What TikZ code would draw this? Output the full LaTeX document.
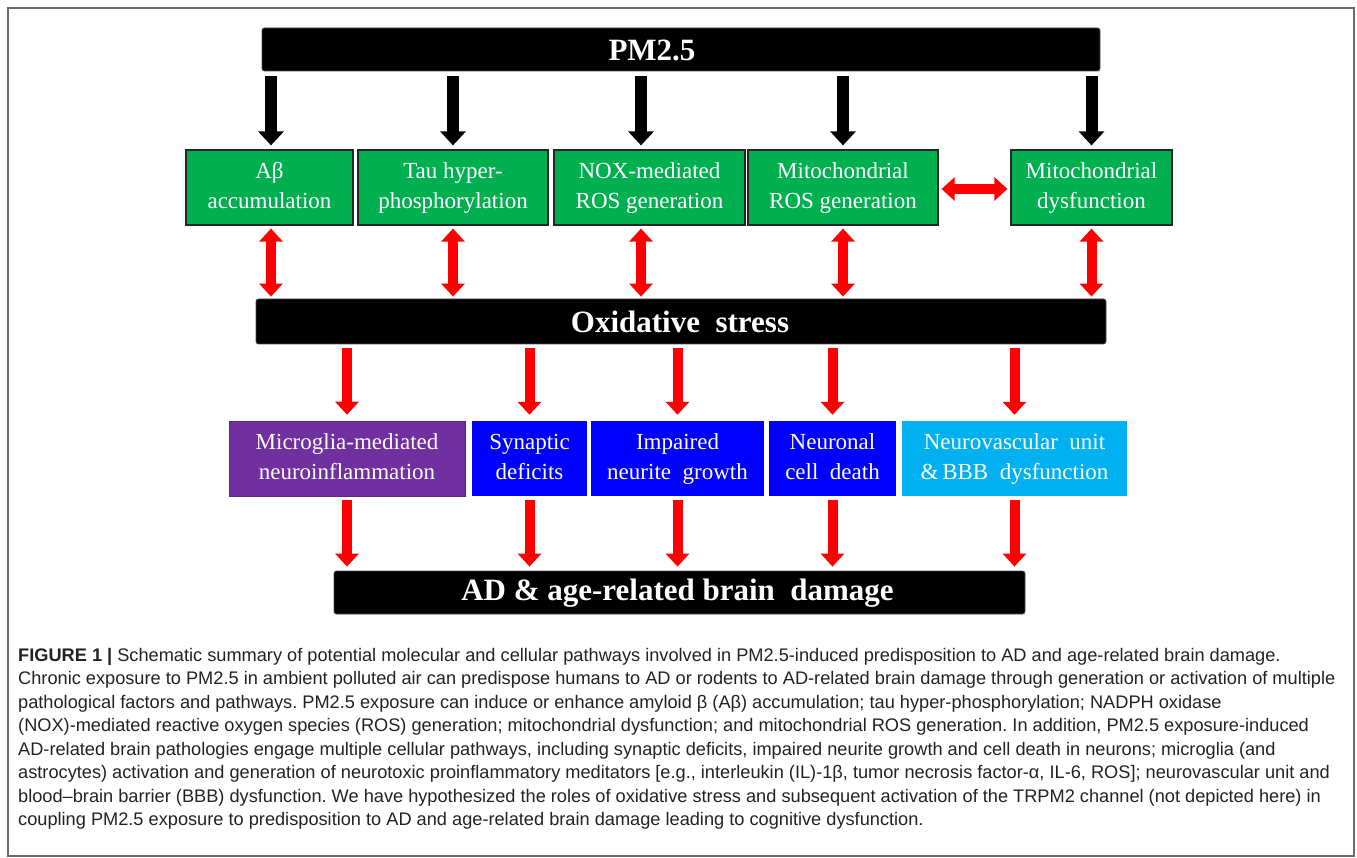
\documentclass[tikz,border=0pt]{standalone}
\usepackage{fontspec}
\setmainfont{Liberation Serif}
\newfontfamily\capfont{Liberation Sans}
\usetikzlibrary{arrows.meta}
\frenchspacing
\definecolor{boxgreen}{HTML}{00B050}
\definecolor{boxpurple}{HTML}{7030A0}
\definecolor{boxblue}{HTML}{0000FF}
\definecolor{boxcyan}{HTML}{00B0F0}
\definecolor{arrred}{HTML}{FF0000}
\definecolor{framegray}{HTML}{6A6A6A}
\definecolor{captext}{HTML}{222222}
\tikzset{
  box/.style={minimum height=75pt, inner sep=0pt, align=center, text=white,
    font=\fontsize{23}{30}\selectfont},
  gbox/.style={box, fill=boxgreen, draw=black!85, line width=1.2pt},
  pbox/.style={box, fill=boxpurple, draw=boxpurple!80!black, line width=0.6pt},
  bbox/.style={box, fill=boxblue},
  cbox/.style={box, fill=boxcyan},
  bar/.style={fill=black, draw=black!70, line width=0.8pt, rounded corners=2.5pt, inner sep=0pt},
  bartext/.style={text=white, inner sep=0pt, font=\bfseries\fontsize{31}{31}\selectfont},
  blkarrow/.style={draw=black, line width=12pt, -{Triangle[width=25pt,length=14pt]}},
  redtwo/.style={draw=arrred, line width=10pt, {Triangle[width=23pt,length=13pt]}-{Triangle[width=23pt,length=13pt]}},
  redarrow/.style={draw=arrred, line width=10pt, -{Triangle[width=23pt,length=13pt]}},
  capline/.style={anchor=base west, inner sep=0pt, text=captext, font=\capfont\fontsize{18.2}{20}\selectfont}
}
\begin{document}
\begin{tikzpicture}[x=1pt,y=-1pt]
\useasboundingbox (0,0) rectangle (1357,858);
\draw[framegray, line width=1.3pt] (8,8) rectangle (1354,856);

% top bar
\node[bar, minimum width=838pt, minimum height=43pt] (pm) at (681,49.5) {};
\node[bartext] (pmt) at (652,50) {PM2.5};

% green boxes
\node[gbox, minimum width=167pt] (ab) at (269.5,187.5) {\strut Aβ\\\strut accumulation};
\node[gbox, minimum width=190pt] (tau) at (453,187.5) {\strut Tau hyper-\\\strut phosphorylation};
\node[gbox, minimum width=191pt] (nox) at (649.5,187.5) {\strut NOX-mediated\\\strut ROS generation};
\node[gbox, minimum width=190pt] (mros) at (843,187.5) {\strut Mitochondrial\\\strut ROS generation};
\node[gbox, minimum width=161pt] (mdys) at (1091.5,187.5) {\strut Mitochondrial\\\strut dysfunction};

% oxidative stress bar
\node[bar, minimum width=850pt, minimum height=45pt] (ox) at (681,321.5) {};
\node[bartext] (oxt) at (680,322) {Oxidative\ \ stress};

% bottom boxes
\node[pbox, minimum width=236pt] (mic) at (347,458.5) {\strut Microglia-mediated\\\strut neuroinflammation};
\node[bbox, minimum width=115pt] (syn) at (529.5,458.5) {\strut Synaptic\\\strut deficits};
\node[bbox, minimum width=173pt] (imp) at (677.5,458.5) {\strut Impaired\\\strut neurite\ \ growth};
\node[bbox, minimum width=127pt] (neu) at (832.5,458.5) {\strut Neuronal\\\strut cell\ \ death};
\node[cbox, minimum width=225pt] (nvu) at (1014.5,458.5) {\strut Neurovascular\ \ unit\\\strut \&\,BBB\ \ dysfunction};

% AD bar
\node[bar, minimum width=691pt, minimum height=43pt] (ad) at (679.5,592.5) {};
\node[bartext] (adt) at (677.5,593) {AD \& age-related brain\ \ damage};

% black arrows and red double arrows
\foreach \b/\dx in {ab/1.5,tau/0,nox/-8.5,mros/0,mdys/0}{
  \coordinate (t\b) at ([xshift=\dx pt]\b.north);
  \coordinate (s\b) at ([xshift=\dx pt]\b.south);
  \draw[blkarrow, shorten <=5pt, shorten >=4pt] (pm.south -| t\b) -- (t\b);
  \draw[redtwo, shorten <=3pt, shorten >=2pt] (s\b) -- (ox.north -| s\b);
}
\draw[redtwo, shorten <=3pt, shorten >=3pt] ([yshift=-1.5pt]mros.east) -- ([yshift=-1.5pt]mdys.west);

% red arrows from oxidative stress
\foreach \b in {mic,syn,imp,neu,nvu}{
  \draw[redarrow, shorten <=4pt, shorten >=6pt] (ox.south -| \b.north) -- (\b.north);
  \draw[redarrow, shorten <=4pt, shorten >=4pt] (\b.south) -- (ad.north -| \b.south);
}

% caption
\node[capline] (c1) at (18,661) {\textbf{FIGURE 1 |} Schematic summary of potential molecular and cellular pathways involved in PM2.5-induced predisposition to AD and age-related brain damage.};
\node[capline] (c2) at (18,684.5) {Chronic exposure to PM2.5 in ambient polluted air can predispose humans to AD or rodents to AD-related brain damage through generation or activation of multiple};
\node[capline] (c3) at (18,708) {pathological factors and pathways. PM2.5 exposure can induce or enhance amyloid β (Aβ) accumulation; tau hyper-phosphorylation; NADPH oxidase};
\node[capline] (c4) at (18,731.5) {(NOX)-mediated reactive oxygen species (ROS) generation; mitochondrial dysfunction; and mitochondrial ROS generation. In addition, PM2.5 exposure-induced};
\node[capline] (c5) at (18,755) {AD-related brain pathologies engage multiple cellular pathways, including synaptic deficits, impaired neurite growth and cell death in neurons; microglia (and};
\node[capline] (c6) at (18,778.5) {astrocytes) activation and generation of neurotoxic proinflammatory meditators [e.g., interleukin (IL)-1β, tumor necrosis factor-α, IL-6, ROS]; neurovascular unit and};
\node[capline] (c7) at (18,802) {blood–brain barrier (BBB) dysfunction. We have hypothesized the roles of oxidative stress and subsequent activation of the TRPM2 channel (not depicted here) in};
\node[capline] (c8) at (18,825.5) {coupling PM2.5 exposure to predisposition to AD and age-related brain damage leading to cognitive dysfunction.};
\end{tikzpicture}
\end{document}
